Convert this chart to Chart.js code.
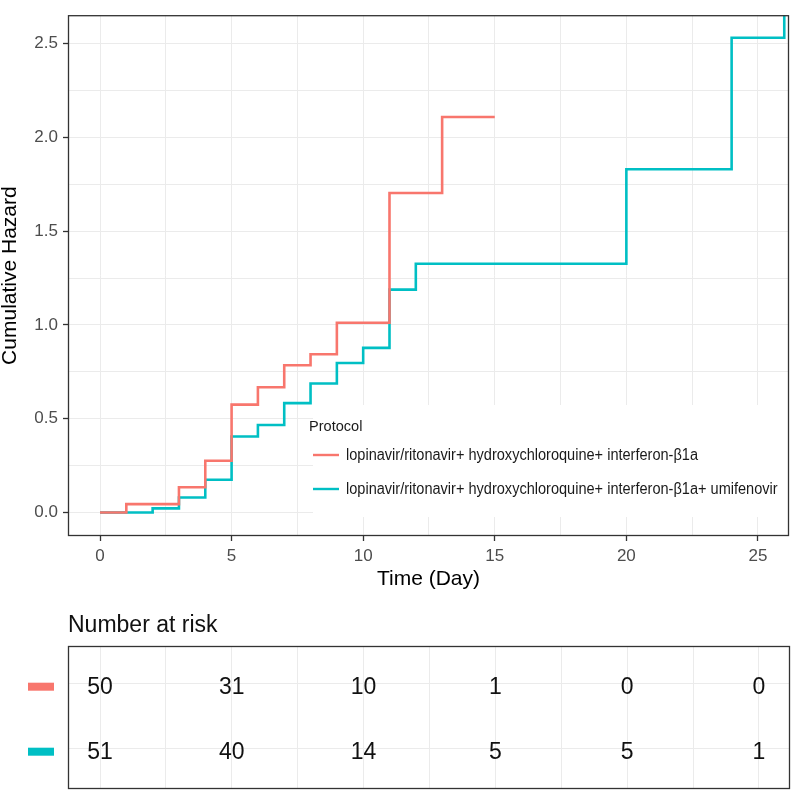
<!DOCTYPE html>
<html>
<head>
<meta charset="utf-8">
<script src="https://cdn.jsdelivr.net/npm/chart.js@4/dist/chart.umd.min.js"></script>
<style>
  body { margin: 0; background: #fff; }
  #wrap { position: relative; width: 794px; height: 793px; background: #fff; }
  canvas { position: absolute; left: 0; }
</style>
</head>
<body>
<div id="wrap">
  <canvas id="main" width="794" height="600" style="top:0"></canvas>
  <canvas id="risk" width="794" height="193" style="top:600px"></canvas>
</div>
<script>
// ---------------- DATA ----------------
const seriesNames = [
  'lopinavir/ritonavir+ hydroxychloroquine+ interferon-β1a',
  'lopinavir/ritonavir+ hydroxychloroquine+ interferon-β1a+ umifenovir'
];
const seriesColors = ['#F8766D', '#00BFC4'];
const legendTitle = 'Protocol';

const timesA  = [0, 1, 3, 4, 5, 6, 7, 8, 9, 11, 13, 15];
const hazardA = [0, 0.045, 0.135, 0.276, 0.575, 0.668, 0.785, 0.844, 1.012, 1.703, 2.108, 2.108];

const timesB  = [0, 2, 3, 4, 5, 6, 7, 8, 9, 10, 11, 12, 20, 24, 26];
const hazardB = [0, 0.022, 0.08, 0.175, 0.405, 0.467, 0.583, 0.688, 0.797, 0.878, 1.188, 1.326, 1.83, 2.531, 3.53];

const riskTimes = [0, 5, 10, 15, 20, 25];
const riskA = [50, 31, 10, 1, 0, 0];
const riskB = [51, 40, 14, 5, 5, 1];

const xTitle = 'Time (Day)';
const yTitle = 'Cumulative Hazard';
const riskTitle = 'Number at risk';

// ---------------- STYLE ----------------
const FONT = "'Liberation Sans', Arial, sans-serif";
Chart.defaults.font.family = FONT;
const GRID = '#EBEBEB';
const BORDER = '#333333';
const TICKTXT = '#4D4D4D';
const X_MIN = -1.216, X_MAX = 26.18;

const isMult = (v, m) => Math.abs(v / m - Math.round(v / m)) < 1e-6;

const panelBorder = {
  id: 'panelBorder',
  afterDraw(chart) {
    const { ctx, chartArea: a } = chart;
    ctx.save();
    ctx.strokeStyle = BORDER;
    ctx.lineWidth = 1.3;
    ctx.strokeRect(a.left + 0.5, a.top + 0.5, a.right - a.left - 1, a.bottom - a.top - 1);
    ctx.restore();
  }
};

const insideLegend = {
  id: 'insideLegend',
  beforeDatasetsDraw(chart) {
    const { ctx, chartArea: a } = chart;
    ctx.save();
    ctx.fillStyle = '#fff';
    ctx.fillRect(313, 405, a.right - 313, 112);
    ctx.fillStyle = '#1a1a1a';
    ctx.font = '15px ' + FONT;
    ctx.textBaseline = 'alphabetic';
    ctx.textAlign = 'left';
    ctx.save();
    ctx.translate(309, 431);
    ctx.scale(0.97, 1);
    ctx.fillText(legendTitle, 0, 0);
    ctx.restore();
    const ys = [455, 489];
    ctx.font = '16px ' + FONT;
    const target = 352;
    const sx = target / ctx.measureText(chart.data.datasets[0].label).width;
    chart.data.datasets.forEach((ds, i) => {
      ctx.strokeStyle = ds.borderColor;
      ctx.lineWidth = 2.4;
      ctx.beginPath();
      ctx.moveTo(313, ys[i]);
      ctx.lineTo(339, ys[i]);
      ctx.stroke();
      ctx.save();
      ctx.translate(346, ys[i]);
      ctx.scale(sx, 1);
      ctx.textBaseline = 'middle';
      ctx.fillStyle = '#1a1a1a';
      ctx.fillText(ds.label, 0, 1);
      ctx.restore();
    });
    ctx.restore();
  }
};

const toPts = (ts, vs) => ts.map((t, i) => ({ x: t, y: vs[i] }));

new Chart(document.getElementById('main'), {
  type: 'line',
  data: {
    datasets: [
      { label: seriesNames[0], data: toPts(timesA, hazardA), borderColor: seriesColors[0],
        backgroundColor: seriesColors[0], borderWidth: 2.6, stepped: 'before', pointRadius: 0, fill: false },
      { label: seriesNames[1], data: toPts(timesB, hazardB), borderColor: seriesColors[1],
        backgroundColor: seriesColors[1], borderWidth: 2.6, stepped: 'before', pointRadius: 0, fill: false }
    ]
  },
  options: {
    responsive: false,
    animation: false,
    devicePixelRatio: 1,
    layout: { padding: { left: 0, right: 5, top: 3, bottom: 0 } },
    plugins: { legend: { display: false }, tooltip: { enabled: false }, title: { display: false } },
    scales: {
      x: {
        type: 'linear', min: X_MIN, max: X_MAX,
        afterFit: s => { s.height = 64; },
        border: { display: false },
        grid: {
          color: GRID, lineWidth: 1, drawTicks: true, tickLength: 5, tickWidth: 1.3,
          tickColor: c => (c.tick && isMult(c.tick.value, 5)) ? BORDER : 'rgba(0,0,0,0)'
        },
        ticks: {
          stepSize: 2.5, includeBounds: false, autoSkip: false, maxRotation: 0,
          color: TICKTXT, font: { size: 17 }, padding: 5,
          callback: v => isMult(v, 5) ? String(v) : ''
        },
        title: { display: true, text: xTitle, color: '#000', font: { size: 21, lineHeight: 1.2 }, padding: { top: 0, bottom: 8 } }
      },
      y: {
        type: 'linear', min: -0.125, max: 2.651,
        afterFit: s => { s.width = 68; },
        border: { display: false },
        grid: {
          color: GRID, lineWidth: 1, drawTicks: true, tickLength: 5, tickWidth: 1.3,
          tickColor: c => (c.tick && isMult(c.tick.value, 0.5)) ? BORDER : 'rgba(0,0,0,0)'
        },
        ticks: {
          stepSize: 0.25, includeBounds: false, autoSkip: false,
          color: TICKTXT, font: { size: 17 }, padding: 5,
          callback: v => isMult(v, 0.5) ? v.toFixed(1) : ''
        },
        title: { display: true, text: yTitle, color: '#000', font: { size: 21, lineHeight: 1.0 }, padding: { top: 0, bottom: 0 } }
      }
    }
  },
  plugins: [insideLegend, panelBorder]
});

// ---------------- RISK TABLE ----------------
const riskLabels = {
  id: 'riskLabels',
  afterDatasetsDraw(chart) {
    const { ctx, chartArea: a } = chart;
    ctx.save();
    ctx.fillStyle = '#111';
    ctx.font = '23px ' + FONT;
    ctx.textAlign = 'center';
    ctx.textBaseline = 'middle';
    chart.data.datasets.forEach((ds, di) => {
      const meta = chart.getDatasetMeta(di);
      meta.data.forEach((el, i) => {
        ctx.fillText(String(ds.data[i].n), el.x, el.y + 4);
      });
      const yRow = chart.scales.y.getPixelForValue(ds.data[0].y);
      ctx.fillStyle = ds.backgroundColor;
      ctx.fillRect(28, yRow - 1, 26, 8);
      ctx.fillStyle = '#111';
    });
    ctx.textAlign = 'left';
    ctx.textBaseline = 'alphabetic';
    ctx.fillText(riskTitle, a.left, 32);
    ctx.restore();
  }
};

new Chart(document.getElementById('risk'), {
  type: 'scatter',
  data: {
    datasets: [
      { label: seriesNames[0], data: riskTimes.map((t, i) => ({ x: t, y: 1, n: riskA[i] })),
        backgroundColor: seriesColors[0], borderColor: seriesColors[0], pointRadius: 0, showLine: false },
      { label: seriesNames[1], data: riskTimes.map((t, i) => ({ x: t, y: 2, n: riskB[i] })),
        backgroundColor: seriesColors[1], borderColor: seriesColors[1], pointRadius: 0, showLine: false }
    ]
  },
  options: {
    responsive: false,
    animation: false,
    devicePixelRatio: 1,
    layout: { padding: { left: 0, right: 4, top: 46, bottom: 0 } },
    plugins: { legend: { display: false }, tooltip: { enabled: false } },
    scales: {
      x: {
        type: 'linear', min: X_MIN, max: X_MAX,
        afterFit: s => { s.height = 4; },
        border: { display: false },
        grid: { color: GRID, lineWidth: 1, drawTicks: false },
        ticks: { display: false, stepSize: 2.5, includeBounds: false, autoSkip: false }
      },
      y: {
        type: 'linear', min: 0.42, max: 2.62, reverse: true,
        afterFit: s => { s.width = 68; },
        border: { display: false },
        grid: { color: GRID, lineWidth: 1, drawTicks: false },
        ticks: { display: false, stepSize: 1, includeBounds: false }
      }
    }
  },
  plugins: [riskLabels, panelBorder]
});
</script>
</body>
</html>
